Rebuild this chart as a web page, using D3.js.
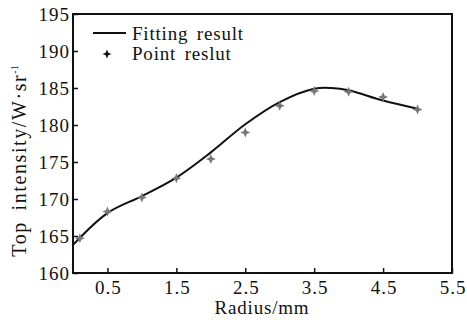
<!DOCTYPE html>
<html>
<head>
<meta charset="utf-8">
<script src="https://cdn.jsdelivr.net/npm/d3@7"></script>
<style>
  body { margin: 0; background: #fff; }
  svg { font-family: "Liberation Serif", "DejaVu Serif", serif; }
</style>
</head>
<body>
<svg id="chart" width="467" height="320"></svg>
<script>
// measured points
var point_x = [0.1, 0.5, 1.0, 1.5, 2.0, 2.5, 3.0, 3.5, 4.0, 4.5, 5.0],
    point_y = [164.7, 168.3, 170.2, 172.8, 175.4, 179.0, 182.6, 184.6, 184.5, 183.8, 182.1];

// fitted curve
var fit_x = [0, 0.5, 1.0, 1.5, 2.0, 2.5, 3.0, 3.5, 3.75, 4.0, 4.5, 5.0],
    fit_y = [163.8, 168.1, 170.4, 172.9, 176.3, 180.1, 183.1, 184.9, 185.0, 184.7, 183.3, 182.2];

var x_ticks = [0.5, 1.5, 2.5, 3.5, 4.5, 5.5],
    y_ticks = [160, 165, 170, 175, 180, 185, 190, 195];

var m_left = 73, m_right = 452, m_top = 14, m_bottom = 273;

var svg = d3.select('#chart');

var x = d3.scaleLinear().domain([0, 5.5]).range([m_left, m_right]),
    y = d3.scaleLinear().domain([160, 195]).range([m_bottom, m_top]);

// frame
svg.append('rect')
  .attr('x', m_left).attr('y', m_top)
  .attr('width', m_right - m_left).attr('height', m_bottom - m_top)
  .attr('fill', 'none').attr('stroke', '#111').attr('stroke-width', 2);

var xAxis = svg.append('g')
  .attr('transform', 'translate(0,' + m_bottom + ')')
  .call(d3.axisBottom(x).tickValues(x_ticks).tickSize(-5).tickPadding(8).tickFormat(d3.format('.1f')));

var yAxis = svg.append('g')
  .attr('transform', 'translate(' + m_left + ',0)')
  .call(d3.axisLeft(y).tickValues(y_ticks).tickSize(-5).tickPadding(3).tickFormat(d3.format('d')));

[xAxis, yAxis].forEach(function(g) {
  g.select('.domain').remove();
  g.selectAll('line').attr('stroke', '#111').attr('stroke-width', 1.5);
  g.selectAll('text')
    .attr('fill', '#111')
    .attr('letter-spacing', 1)
    .style('font-family', '"Liberation Serif", serif')
    .style('font-size', '19px');
});
xAxis.selectAll('text').attr('dx', 0.5);

// fit line
var fit = fit_x.map(function(d, i) { return [d, fit_y[i]]; });
var line = d3.line()
  .x(function(d) { return x(d[0]); })
  .y(function(d) { return y(d[1]); })
  .curve(d3.curveCatmullRom.alpha(0.5));

svg.append('path')
  .datum(fit)
  .attr('d', line)
  .attr('fill', 'none')
  .attr('stroke', '#111')
  .attr('stroke-width', 2);

// four point star marker
function star(cx, cy, r) {
  var k = r * 0.3;
  return 'M' + cx + ',' + (cy - r) +
    'L' + (cx + k) + ',' + (cy - k) +
    'L' + (cx + r) + ',' + cy +
    'L' + (cx + k) + ',' + (cy + k) +
    'L' + cx + ',' + (cy + r) +
    'L' + (cx - k) + ',' + (cy + k) +
    'L' + (cx - r) + ',' + cy +
    'L' + (cx - k) + ',' + (cy - k) + 'Z';
}

svg.append('g').selectAll('path')
  .data(point_x)
  .enter().append('path')
  .attr('d', function(d, i) { return star(x(d), y(point_y[i]), 5); })
  .attr('fill', '#777');

// legend
svg.append('line')
  .attr('x1', 93).attr('x2', 126).attr('y1', 33).attr('y2', 33)
  .attr('stroke', '#111').attr('stroke-width', 2);
svg.append('text')
  .attr('x', 132).attr('y', 40)
  .attr('font-size', 19).attr('fill', '#111')
  .attr('letter-spacing', 0.8).attr('word-spacing', 3)
  .text('Fitting result');
svg.append('path')
  .attr('d', star(107, 54, 4.5))
  .attr('fill', '#111');
svg.append('text')
  .attr('x', 132).attr('y', 60)
  .attr('font-size', 19).attr('fill', '#111')
  .attr('letter-spacing', 0.8).attr('word-spacing', 3)
  .text('Point reslut');

// axis titles
svg.append('text')
  .attr('x', 262).attr('y', 314)
  .attr('text-anchor', 'middle')
  .attr('font-size', 19).attr('fill', '#111')
  .attr('letter-spacing', 0.8)
  .text('Radius/mm');

var ylab = svg.append('text')
  .attr('transform', 'translate(26,161) rotate(-90)')
  .attr('text-anchor', 'middle')
  .attr('font-size', 20).attr('fill', '#111')
  .attr('letter-spacing', 1.6).attr('word-spacing', 4);
ylab.append('tspan').text('Top intensity/W\u00b7sr');
ylab.append('tspan').attr('dy', -8).attr('font-size', 10).attr('letter-spacing', 0).text('-1');
</script>
</body>
</html>
